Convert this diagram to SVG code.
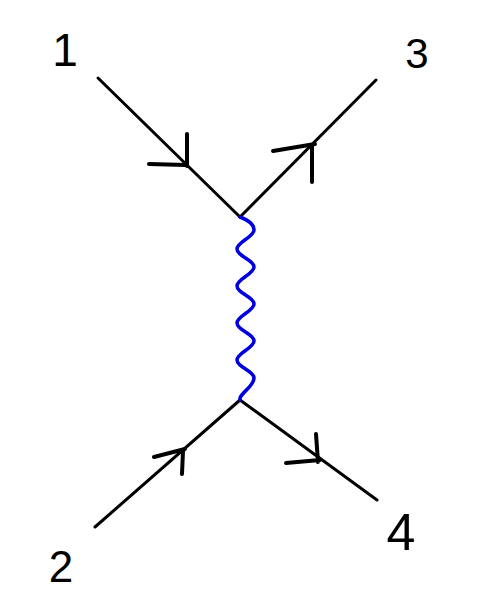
<svg xmlns="http://www.w3.org/2000/svg" width="486" height="614" viewBox="0 0 486 614">
<style>
.ln{stroke:#000;stroke-width:3;fill:none;stroke-linecap:round}
.ah{stroke:#000;stroke-width:4;fill:none;stroke-linecap:round;stroke-linejoin:round}
.wv{stroke:#0000dd;stroke-width:3.5;fill:none;stroke-linecap:round}
.lb{font-family:"Liberation Sans",Arial,sans-serif;fill:#000;text-anchor:middle}
</style>
<rect width="486" height="614" fill="#fff"/>
<g id="connectors">
<path class="ln" d="M98,78 L240,217"/>
<path class="ln" d="M240,217 L376,80"/>
<path class="ln" d="M95,527 L240,400"/>
<path class="ln" d="M240,400 L377,500"/>
<path class="wv" d="M240,217 C248,220 254,224 254,230 C254,237 237,242 237,249 C237,256 254,260 254,267 C254,274 237,279 237,286 C237,293 254,297 254,304 C254,311 237,316 237,323 C237,330 254,334 254,341 C254,348 237,353 237,360 C237,367 254,371 254,378 C254,386 242,392 240,398 L240,400"/>
<path class="ah" d="M149,164 L186,165 M187,134 L187,166"/>
<path class="ah" d="M273,151 L315,144 M312,146 L312,182"/>
<path class="ah" d="M154,457 L185,449 M183,451 L182,474"/>
<path class="ah" d="M286,463 L320,460 M316,434 L318,462"/>
</g>
<g id="n1"><text class="lb" x="65" y="66" font-size="46">1</text></g>
<g id="n3"><text class="lb" x="417" y="68" font-size="42">3</text></g>
<g id="n2"><text class="lb" x="61" y="582" font-size="44">2</text></g>
<g id="n4"><text class="lb" x="401" y="550" font-size="52">4</text></g>
</svg>
